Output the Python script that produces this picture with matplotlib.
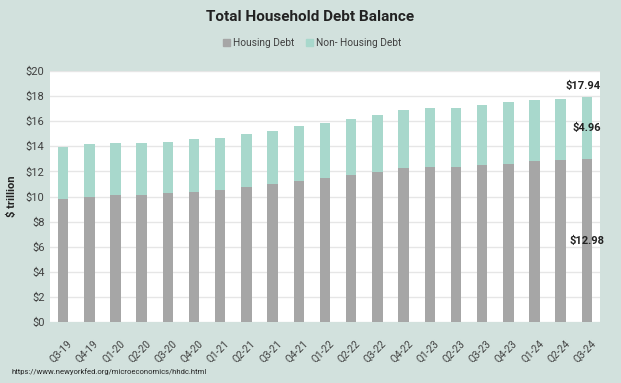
import matplotlib
matplotlib.use("Agg")
from matplotlib import pyplot as plt
from matplotlib.patches import Patch
from matplotlib.transforms import ScaledTranslation

# Quarterly balances, $ trillion (NY Fed household debt)
quarters = ["Q3-19", "Q4-19", "Q1-20", "Q2-20", "Q3-20", "Q4-20", "Q1-21",
            "Q2-21", "Q3-21", "Q4-21", "Q1-22", "Q2-22", "Q3-22", "Q4-22",
            "Q1-23", "Q2-23", "Q3-23", "Q4-23", "Q1-24", "Q2-24", "Q3-24"]
housing = [9.83, 9.95, 10.10, 10.15, 10.24, 10.39, 10.50, 10.76, 10.99, 11.25,
           11.50, 11.71, 11.99, 12.26, 12.38, 12.35, 12.48, 12.61, 12.81,
           12.94, 12.98]
non_housing = [4.12, 4.20, 4.20, 4.12, 4.11, 4.17, 4.14, 4.20, 4.25, 4.33,
               4.34, 4.44, 4.52, 4.64, 4.67, 4.71, 4.81, 4.89, 4.88,
               4.86, 4.96]
yticks = list(range(0, 21, 2))

bg = "#d2e1dd"
c_house = "#a6a6a6"
c_non = "#a8d8cc"

plt.rcParams["font.family"] = ["Roboto", "DejaVu Sans"]

fig = plt.figure(figsize=(6.21, 3.83), dpi=100, facecolor=bg)
ax = fig.add_axes([50 / 621, 1 - 322 / 383, 550 / 621, 251 / 383])
ax.set_facecolor("white")

x = list(range(len(quarters)))
ax.bar(x, housing, width=0.4, color=c_house, zorder=3)
totals = [h + n for h, n in zip(housing, non_housing)]
ax.bar(x, non_housing, width=0.4, bottom=housing, color=c_non, zorder=3)

ax.set_xlim(-0.5, len(quarters) - 0.5)
ax.set_ylim(0, 20)
ax.set_yticks(yticks)
ax.set_yticklabels(["$%d" % v for v in yticks], fontsize=8, color="#404040")
ax.set_xticks(x)
ax.set_xticklabels(quarters, rotation=45, ha="right", rotation_mode="anchor",
                   fontsize=7.3, color="#404040")
ax.tick_params(length=0, pad=4)
ax.tick_params(axis="x", pad=12)
# nudge the rotated labels a little to the right, like the original
shift = ScaledTranslation(4 / 100, 0, fig.dpi_scale_trans)
for lab in ax.get_xticklabels():
    lab.set_transform(lab.get_transform() + shift)
ax.grid(axis="y", color="#e6e6e6", linewidth=1, zorder=0)
for s in ax.spines.values():
    s.set_visible(False)

ax.set_ylabel("$ trillion", fontsize=8, fontweight="bold", color="#222222",
              labelpad=6)

# data labels for the last quarter
i = len(quarters) - 1
ax.text(i, housing[i] / 2, "$%.2f" % housing[i], ha="center", va="center",
        fontsize=8, fontweight="bold", color="#222222", zorder=4)
ax.text(i, housing[i] + non_housing[i] / 2, "$%.2f" % non_housing[i],
        ha="center", va="center", fontsize=8, fontweight="bold",
        color="#222222", zorder=4)
ax.annotate("$%.2f" % totals[i], (i, totals[i]), xytext=(-3, 4),
            textcoords="offset points", ha="center", va="bottom",
            fontsize=8, fontweight="bold", color="#222222",
            annotation_clip=False)

fig.text(0.5, 1 - 17 / 383, "Total Household Debt Balance", ha="center",
         va="center", fontsize=11, fontweight="bold", color="#222222")

handles = [Patch(color=c_house, label="Housing Debt"),
           Patch(color=c_non, label="Non- Housing Debt")]
fig.legend(handles=handles, loc="center", bbox_to_anchor=(312 / 621, 1 - 43 / 383),
           ncol=2, frameon=False, fontsize=7.3, handlelength=0.7,
           handleheight=0.7, handletextpad=0.3, columnspacing=1.2,
           labelcolor="#404040")

fig.text(12 / 621, 1 - 372 / 383,
         "https://www.newyorkfed.org/microeconomics/hhdc.html",
         ha="left", va="center", fontsize=5.5, color="#222222")

fig.savefig("out.png", dpi=100, facecolor=bg)
